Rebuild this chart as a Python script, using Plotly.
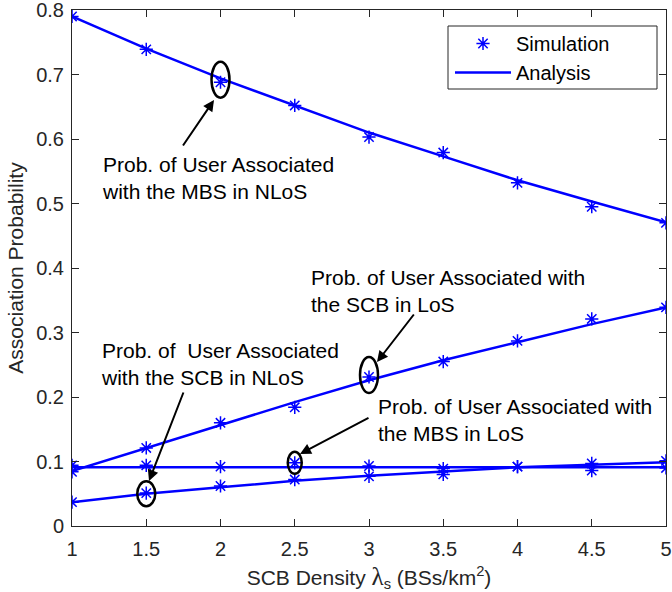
import plotly.graph_objects as go

# SCB density (BSs/km^2)
density = [1, 1.5, 2, 2.5, 3, 3.5, 4, 4.5, 5]

# Analytical association probabilities
mbs_nlos_ana = [0.790, 0.740, 0.694, 0.652, 0.610, 0.573, 0.536, 0.503, 0.471]
scb_los_ana = [0.085, 0.121, 0.157, 0.192, 0.226, 0.257, 0.285, 0.313, 0.339]
mbs_los_ana = [0.091, 0.091, 0.091, 0.091, 0.091, 0.091, 0.091, 0.091, 0.091]
scb_nlos_ana = [0.037, 0.050, 0.060, 0.070, 0.078, 0.084, 0.091, 0.095, 0.099]

# Monte-Carlo simulation results
mbs_nlos_sim = [0.790, 0.739, 0.688, 0.652, 0.603, 0.579, 0.532, 0.495, 0.470]
scb_los_sim = [0.084, 0.121, 0.160, 0.184, 0.231, 0.255, 0.287, 0.321, 0.339]
mbs_los_sim = [0.094, 0.094, 0.092, 0.098, 0.093, 0.089, 0.092, 0.086, 0.090]
scb_nlos_sim = [0.037, 0.051, 0.062, 0.072, 0.077, 0.080, 0.092, 0.097, 0.101]

x_ticks = [1, 1.5, 2, 2.5, 3, 3.5, 4, 4.5, 5]
y_ticks = [0, 0.1, 0.2, 0.3, 0.4, 0.5, 0.6, 0.7, 0.8]

BLUE = "#0000ff"
INK = "#262626"
FONT = "Liberation Sans"

W, H = 672, 592
L, R, T, B = 72, 6, 10, 66
PW, PH = W - L - R, H - T - B
X0, X1, Y0, Y1 = 1, 5, 0, 0.8


def px2x(px):
    return X0 + (px - L) / PW * (X1 - X0)


def py2y(py):
    return Y0 + (T + PH - py) / PH * (Y1 - Y0)


def px2paper(px):
    return (px - L) / PW


def py2paper(py):
    return (T + PH - py) / PH


fig = go.Figure()

analysis = [mbs_nlos_ana, scb_los_ana, mbs_los_ana, scb_nlos_ana]
simulation = [mbs_nlos_sim, scb_los_sim, mbs_los_sim, scb_nlos_sim]

for i, ys in enumerate(analysis):
    fig.add_trace(go.Scatter(
        x=density, y=ys, mode="lines", name="Analysis",
        line=dict(color=BLUE, width=2.5),
        legendgroup="ana", showlegend=(i == 0), legendrank=2,
    ))

for i, ys in enumerate(simulation):
    fig.add_trace(go.Scatter(
        x=density, y=ys, mode="markers", name="Simulation",
        marker=dict(symbol="asterisk-open", size=11, color=BLUE,
                    line=dict(color=BLUE, width=1.5)),
        legendgroup="sim", showlegend=(i == 0), legendrank=1,
    ))

# Highlight ellipses: centre in data units, half-sizes in pixels
ellipses = [
    (2.0, 0.692, 9, 18),
    (3.0, 0.234, 9, 18),
    (1.5, 0.050, 9, 12.5),
    (2.5, 0.098, 7, 11),
]
for cx, cy, rx, ry in ellipses:
    fig.add_shape(
        type="circle", xref="x", yref="y",
        xsizemode="pixel", ysizemode="pixel",
        xanchor=cx, yanchor=cy,
        x0=-rx, x1=rx, y0=-ry, y1=ry,
        line=dict(color="black", width=2.5),
    )

# Legend frame
fig.add_shape(
    type="rect", xref="paper", yref="paper",
    x0=px2paper(448), x1=px2paper(657), y0=py2paper(89), y1=py2paper(26),
    line=dict(color=INK, width=1), fillcolor="white", layer="above",
)

# Arrows: (tail px, head px)
arrows = [
    ((182, 147), (214, 100)),
    ((415, 313), (377, 362)),
    ((184, 391), (149, 481)),
    ((370, 417), (300, 454)),
]
for (tx, ty), (hx, hy) in arrows:
    fig.add_annotation(
        x=px2x(hx), y=py2y(hy), xref="x", yref="y",
        ax=px2x(tx), ay=py2y(ty), axref="x", ayref="y",
        text="", showarrow=True, arrowhead=2, arrowsize=1.1,
        arrowwidth=2, arrowcolor="black", standoff=0,
    )

# Annotation labels: (left px, centre px, text)
labels = [
    (100, 178, "Prob. of User Associated<br>with the MBS in NLoS"),
    (309, 291, "Prob. of User Associated with<br>the SCB in LoS"),
    (99, 364, "Prob. of  User Associated<br>with the SCB in NLoS"),
    (376, 420, "Prob. of User Associated with<br>the MBS in LoS"),
]
for lx, cy, txt in labels:
    fig.add_annotation(
        x=px2paper(lx), y=py2paper(cy), xref="paper", yref="paper",
        text=txt, showarrow=False, xanchor="left", yanchor="middle",
        align="left", font=dict(family=FONT, size=21, color="black"),
    )

axis_common = dict(
    showline=True, linecolor=INK, linewidth=1, mirror="allticks",
    ticks="inside", ticklen=7, tickwidth=1, tickcolor=INK,
    showgrid=False, zeroline=False, ticklabeloverflow="allow",
    tickfont=dict(family=FONT, size=20, color=INK),
)

fig.update_layout(
    width=W, height=H,
    margin=dict(l=L, r=R, t=T, b=B, autoexpand=False),
    paper_bgcolor="white", plot_bgcolor="white",
    font=dict(family=FONT, color=INK),
    xaxis=dict(
        range=[X0, X1], tickvals=x_ticks,
        ticktext=[f"{v:g}" for v in x_ticks],
        ticklabelstandoff=5,
        title=dict(
            text="SCB Density <span style=\"font-family:'Liberation Serif';font-size:25px\">λ</span>"
                 "<sub>s</sub> (BSs/km<sup>2</sup>)",
            font=dict(family=FONT, size=21, color=INK), standoff=11),
        **axis_common,
    ),
    yaxis=dict(
        range=[Y0, Y1], tickvals=y_ticks,
        ticktext=[f"{v:g}" for v in y_ticks],
        ticklabelstandoff=3,
        title=dict(text="Association Probability",
                   font=dict(family=FONT, size=21, color=INK), standoff=6),
        **axis_common,
    ),
    legend=dict(
        x=px2paper(450), y=py2paper(24), xanchor="left", yanchor="top",
        bgcolor="rgba(0,0,0,0)", borderwidth=0,
        font=dict(family=FONT, size=20, color="black"),
        itemwidth=56, tracegroupgap=0,
    ),
)

fig.write_html("out.html")
